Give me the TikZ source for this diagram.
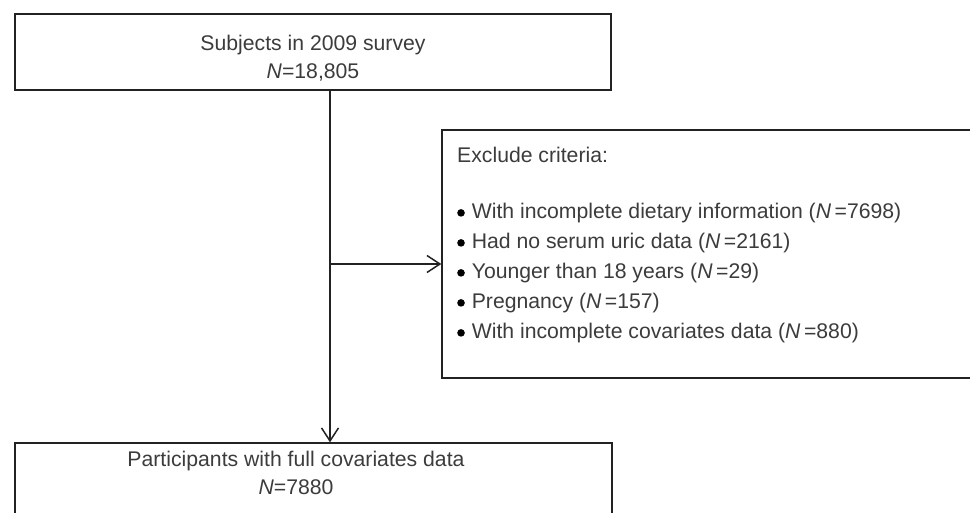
\documentclass[tikz,border=0pt]{standalone}
\usepackage{fontspec}
\setmainfont{Liberation Sans}
\usetikzlibrary{arrows.meta}
\definecolor{ink}{HTML}{222222}
\definecolor{txtgray}{HTML}{3C3C3C}

\begin{document}
\begin{tikzpicture}[x=1pt,y=-1pt,
  box/.style={draw=ink,line width=1.4pt,minimum width=#1,inner sep=0pt},
  txt/.style={text=txtgray,font=\fontsize{21.2}{28}\selectfont,inner sep=0pt},
  flow/.style={draw=ink,line width=1.5pt,-{Straight Barb[length=13pt,width=17pt]}}]
\clip (0,0) rectangle (970,513);
\fill[white] (0,0) rectangle (970,513);
% Boxes
\node[box=596pt,minimum height=76pt] (subj) at (313,52) {};
\node[box=597pt,minimum height=120pt] (final) at (313.5,503) {};
\node[box=560pt,minimum height=248pt] (excl) at (722,254) {};
% Texts in the boxes
\node[txt,align=center] (subjtxt) at (313,58) {Subjects in 2009 survey\\\textit{N}=18,805};
\node[txt,align=center] (finaltxt) at (296,473) {Participants with full covariates data\\\textit{N}=7880};
\node[txt,anchor=west] (crit) at (457,155) {Exclude criteria:};
% Exclusion list
\foreach \i/\t [count=\k from 0] in {1/With incomplete dietary information (\textit{N}\,=7698),
  2/Had no serum uric data (\textit{N}\,=2161),
  3/Younger than 18 years (\textit{N}\,=29),
  4/Pregnancy (\textit{N}\,=157),
  5/With incomplete covariates data (\textit{N}\,=880)} {
  \node[txt,anchor=west] (item\i) at (457,213+30*\k) {\raisebox{1.8pt}{\tikz\fill[black] (0,0) circle (3.8pt);}\hspace{7pt}\t};
}
% Connectors
\coordinate (split) at (330,264);
\draw[flow] (subj.south -| split) -- (final.north -| split);
\draw[flow] (split) -- (excl.west |- split);
\end{tikzpicture}
\end{document}
